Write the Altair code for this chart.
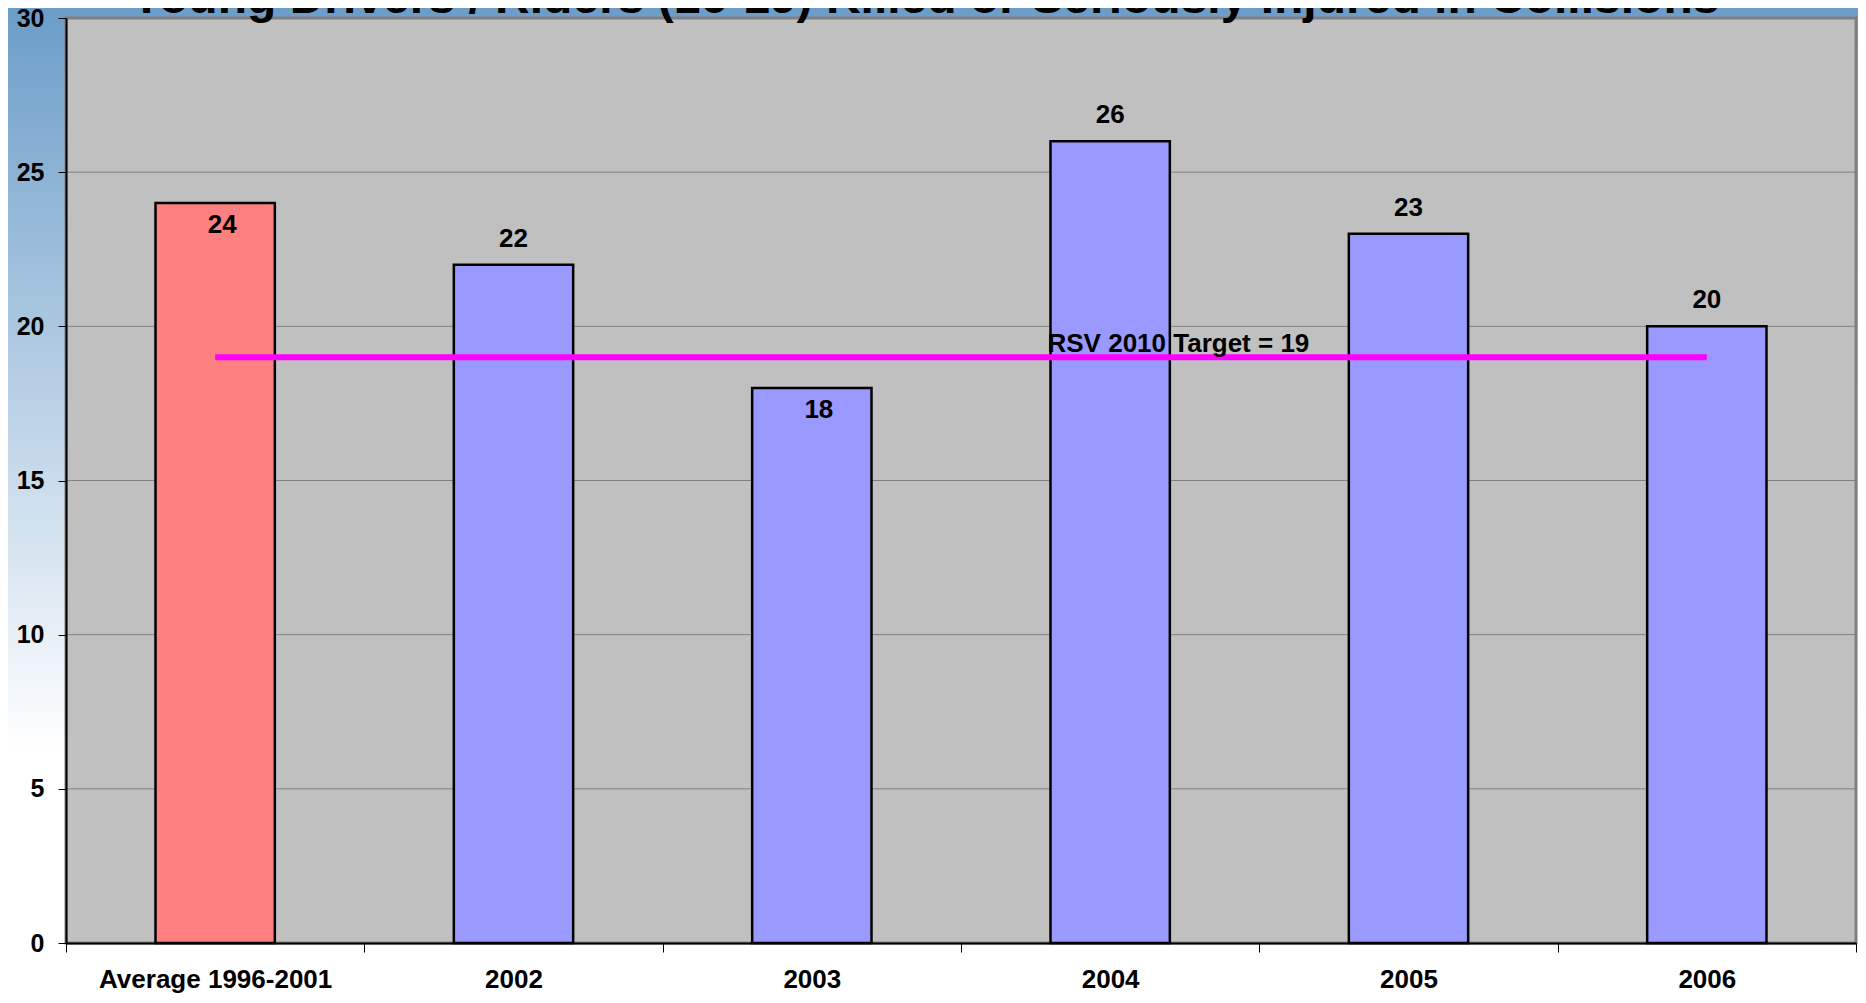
import altair as alt
import pandas as pd

# ---- data ----
categories = ["Average 1996-2001", "2002", "2003", "2004", "2005", "2006"]
values = [24, 22, 18, 26, 23, 20]
bar_colors = ["#FF8080", "#9999FF", "#9999FF", "#9999FF", "#9999FF", "#9999FF"]
label_place = ["inside", "above", "inside", "above", "above", "above"]
y_ticks = [0, 5, 10, 15, 20, 25, 30]
grid_values = [5, 10, 15, 20, 25]
target_value = 19
target_label = "RSV 2010 Target = 19"
target_label_at = "2004"
title_text = "Young Drivers / Riders (16-19) Killed or Seriously Injured in Collisions"

W, H = 1790, 925
FONT = "Liberation Sans"

df = pd.DataFrame({"cat": categories, "value": values,
                   "color": bar_colors, "place": label_place})
one = pd.DataFrame({"k": [0]})

x_scale = alt.Scale(domain=categories, paddingInner=0, paddingOuter=0)
y_scale = alt.Scale(domain=[0, 30], nice=False)

x_axis = alt.Axis(title=None, labelAngle=0, tickBand="extent",
                  domainColor="black", domainWidth=2,
                  tickColor="black", tickSize=9, tickWidth=1,
                  labelFont=FONT, labelFontWeight="bold", labelFontSize=26,
                  labelColor="black", labelPadding=27, labelBaseline="middle",
                  labelLimit=0, grid=False, zindex=1)
y_axis = alt.Axis(title=None, values=y_ticks, grid=False,
                  domainColor="black", domainWidth=2,
                  tickColor="black", tickSize=8, tickWidth=1,
                  labelFont=FONT, labelFontWeight="bold", labelFontSize=25,
                  labelColor="black", labelPadding=14, zindex=1)

X = dict(scale=x_scale, axis=x_axis)
Y = dict(scale=y_scale, axis=y_axis)

gradient = alt.LinearGradient(
    gradient="linear", x1=0, y1=0, x2=0, y2=1,
    stops=[alt.GradientStop(offset=0, color="#6A9CC8"),
           alt.GradientStop(offset=0.75, color="#FFFFFF"),
           alt.GradientStop(offset=1, color="#FFFFFF")])

bg = alt.Chart(one).mark_rect(fill=gradient).encode(
    x=alt.value(-70), x2=alt.value(W + 30),
    y=alt.value(-18), y2=alt.value(H + 60))

plot_bg = alt.Chart(one).mark_rect(fill="#C0C0C0", stroke="#808080", strokeWidth=3).encode(
    x=alt.value(0), x2=alt.value(W), y=alt.value(0), y2=alt.value(H))

grid = alt.Chart(pd.DataFrame({"value": grid_values})).mark_rule(
    color="#808080", strokeWidth=1).encode(
    y=alt.Y("value:Q", **Y))

bars = alt.Chart(df).mark_bar(width=alt.RelativeBandSize(0.4), stroke="black",
                              strokeWidth=2.5).encode(
    x=alt.X("cat:N", **X),
    y=alt.Y("value:Q", **Y),
    color=alt.Color("color:N", scale=None))

lbl_above = alt.Chart(df).transform_filter(alt.datum.place == "above").mark_text(
    baseline="middle", dy=-26, font=FONT, fontWeight="bold", fontSize=26,
    color="black").encode(
    x=alt.X("cat:N", **X),
    y=alt.Y("value:Q", **Y),
    text="value:Q")

lbl_inside = alt.Chart(df).transform_filter(alt.datum.place == "inside").mark_text(
    baseline="middle", dx=7, dy=22, font=FONT, fontWeight="bold", fontSize=26,
    color="black").encode(
    x=alt.X("cat:N", **X),
    y=alt.Y("value:Q", **Y),
    text="value:Q")

tdf = pd.DataFrame({"cat": [categories[0]], "cat_end": [categories[-1]],
                    "value": [target_value]})
target = alt.Chart(tdf).mark_rule(color="#FF00FF", strokeWidth=6).encode(
    x=alt.X("cat:N", **X),
    x2="cat_end:N",
    y=alt.Y("value:Q", **Y))

tl = pd.DataFrame({"cat": [target_label_at], "value": [target_value],
                   "label": [target_label]})
target_text = alt.Chart(tl).mark_text(
    align="left", baseline="alphabetic", dx=-3, dy=-5, font=FONT,
    fontWeight="bold", fontSize=26, color="black").encode(
    x=alt.X("cat:N", bandPosition=0.3, **X),
    y=alt.Y("value:Q", **Y),
    text="label:N")

title = alt.Chart(pd.DataFrame({"title": [title_text]})).mark_text(
    align="center", baseline="alphabetic", font=FONT, fontWeight="bold",
    fontSize=48, color="black").encode(
    x=alt.value(859), y=alt.value(-4.7), text="title:N")

chart = alt.layer(bg, plot_bg, grid, bars, lbl_above, lbl_inside, target,
                  target_text, title).properties(
    width=W, height=H,
    autosize=alt.AutoSizeParams(type="none"),
    padding={"left": 58, "top": 10, "right": 2, "bottom": 52},
    background="white",
).configure_view(stroke=None)

chart.save("out.html", embed_options={"renderer": "svg", "actions": False})
